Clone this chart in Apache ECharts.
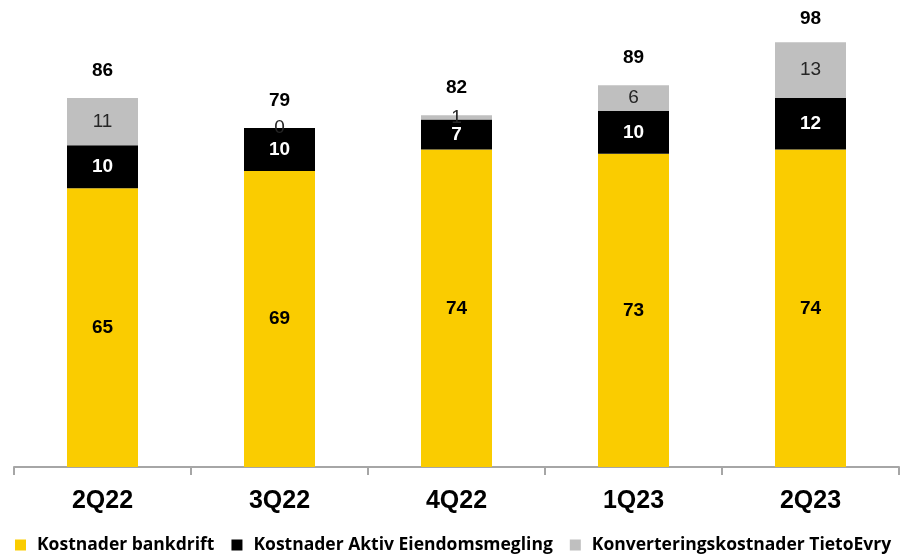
<!DOCTYPE html>
<html>
<head>
<meta charset="utf-8">
<script src="https://cdn.jsdelivr.net/npm/echarts@6/dist/echarts.min.js"></script>
<style>
  html, body { margin: 0; padding: 0; background: #fff; }
  #chart { width: 900px; height: 555px; }
</style>
</head>
<body>
<div id="chart"></div>
<script>
// Quarterly costs, stacked by cost type
const quarters = ['2Q22', '3Q22', '4Q22', '1Q23', '2Q23'];
const bankdrift = [65, 69, 74, 73, 74];
const aktiv = [10, 10, 7, 10, 12];
const konvertering = [11, 0, 1, 6, 13];
const totals = [86, 79, 82, 89, 98];

const seriesNames = ['Kostnader bankdrift', 'Kostnader Aktiv Eiendomsmegling', 'Konverteringskostnader TietoEvry'];
const colors = ['#FACC00', '#000000', '#BFBFBF'];

const chart = echarts.init(document.getElementById('chart'));
const labelFont = 'Liberation Sans';

chart.setOption({
  animation: false,
  grid: { left: 14, right: 1, top: 38, bottom: 88 },
  legend: {
    top: 531,
    left: 10,
    itemWidth: 11,
    itemHeight: 11,
    itemGap: 17,
    icon: 'rect',
    textStyle: { fontFamily: 'Open Sans', fontWeight: 'bold', fontSize: 17.5, color: '#000', padding: [0, 0, 0, 6] },
    data: seriesNames
  },
  xAxis: {
    type: 'category',
    data: quarters,
    axisLine: { lineStyle: { color: '#A6A6A6', width: 2 } },
    axisTick: { show: true, length: 8, lineStyle: { color: '#A6A6A6', width: 2 } },
    axisLabel: { fontFamily: labelFont, fontWeight: 'bold', fontSize: 25, color: '#000', margin: 22 }
  },
  yAxis: {
    type: 'value',
    min: 0,
    max: 100,
    show: false,
    splitLine: { show: false }
  },
  series: [
    {
      name: seriesNames[0], type: 'bar', stack: 'cost', barWidth: 71,
      itemStyle: { color: colors[0] },
      label: { show: true, position: 'inside', fontFamily: labelFont, fontWeight: 'bold', fontSize: 19, color: '#000' },
      data: bankdrift
    },
    {
      name: seriesNames[1], type: 'bar', stack: 'cost',
      itemStyle: { color: colors[1] },
      label: { show: true, position: 'inside', fontFamily: labelFont, fontWeight: 'bold', fontSize: 19, color: '#fff' },
      data: aktiv
    },
    {
      name: seriesNames[2], type: 'bar', stack: 'cost',
      itemStyle: { color: colors[2] },
      label: { show: true, position: 'inside', fontFamily: labelFont, fontSize: 19, color: '#262626' },
      data: konvertering
    },
    {
      // stack totals written above each column
      name: 'Sum', type: 'scatter', symbolSize: 0, silent: true,
      itemStyle: { color: '#000', opacity: 1 },
      label: { show: true, position: 'top', distance: 18, fontFamily: labelFont, fontWeight: 'bold', fontSize: 19, color: '#000' },
      data: totals
    }
  ]
});
</script>
</body>
</html>
